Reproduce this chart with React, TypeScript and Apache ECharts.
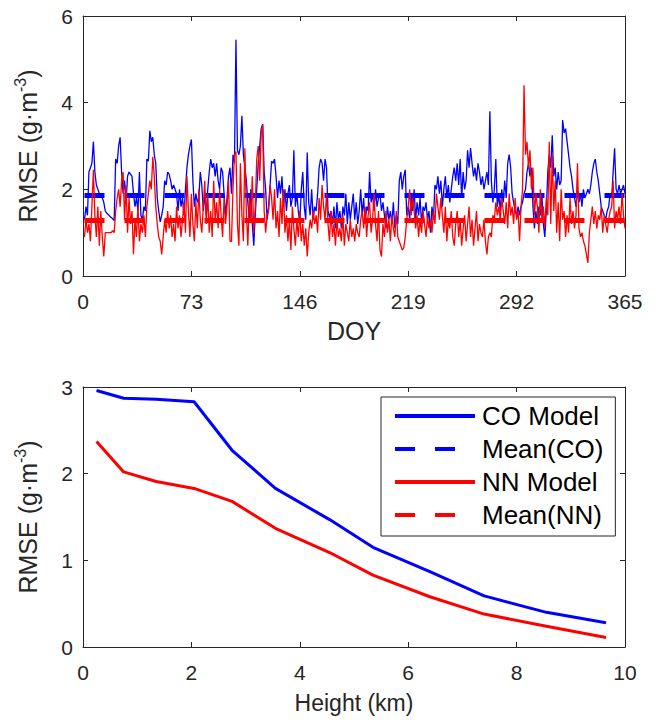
import React, { useEffect, useRef } from "react";
import * as echarts from "echarts";

// ---- Top panel: daily RMSE over the year ----
const doyTicks = [0, 73, 146, 219, 292, 365];
const coDaily = [
  1.3, 1.6, 1.4, 2.4, 2.5, 2.6, 3.1, 2.4, 2.1, 2.0,
  1.9, 1.9, 1.8, 1.7, 1.5, 1.45, 1.42, 1.38, 1.35, 1.32,
  1.28, 2.7, 2.6, 3.0, 3.2, 2.4, 1.9, 2.2, 1.7, 2.3,
  2.4, 2.35, 2.3, 1.9, 1.6, 1.8, 1.5, 2.4, 1.4, 1.3,
  1.6, 1.5, 2.7, 2.65, 3.35, 3.1, 3.2, 2.8, 2.6, 1.8,
  1.5, 1.25, 1.4, 1.6, 2.2, 2.1, 2.4, 2.35, 2.2, 2.0,
  2.1, 2.0, 1.9, 1.5, 2.0, 1.6, 1.8, 1.4, 2.0, 2.5,
  2.8, 3.0, 3.15, 2.2, 1.6, 1.9, 1.7, 1.8, 2.4, 2.1,
  1.5, 1.9, 1.4, 2.0, 2.4, 2.7, 2.5, 2.6, 2.3, 2.6,
  2.2, 2.0, 2.5, 2.4, 1.9, 1.4, 1.8, 2.3, 2.5, 1.9,
  2.8, 2.6, 5.45, 2.9, 2.8, 3.0, 3.7, 2.8, 2.5, 2.2,
  1.7, 1.3, 2.0, 1.2, 0.7, 1.4, 2.0, 2.6, 3.0, 3.4,
  3.5, 2.4, 2.0, 1.3, 1.6, 2.1, 2.65, 2.6, 2.7, 2.3,
  1.8, 2.2, 1.9, 2.3, 1.6, 2.0, 1.5, 1.9, 2.1, 1.6,
  1.8, 2.9, 1.6, 1.9, 1.5, 1.2, 2.0, 2.4, 1.6, 1.3,
  2.85, 1.7, 1.4, 2.0, 1.3, 1.6, 1.5, 1.9, 2.5, 2.7,
  2.6, 2.2, 2.7, 2.5, 1.5, 1.35, 1.5, 1.2, 1.6, 1.1,
  1.7, 1.3, 1.5, 1.1, 1.6, 1.4, 1.9, 1.2, 1.7, 1.3,
  1.6, 1.9, 1.3, 1.7, 1.2, 1.5, 2.0, 1.4, 1.8, 1.2,
  1.6, 1.5, 2.4, 1.7, 1.9, 1.5, 2.0, 1.6, 1.8, 1.9,
  1.5, 1.7, 1.4, 1.1, 1.6, 1.3, 1.5, 1.2, 1.7, 1.1,
  1.4, 1.2, 2.2, 2.4, 2.0, 2.3, 2.45, 1.4, 1.6, 1.3,
  1.9, 1.5, 2.0, 1.3, 1.7, 1.4, 1.8, 1.2, 1.6, 1.5,
  1.7, 1.3, 1.5, 1.0, 1.6, 1.3, 2.1, 2.0, 2.3, 1.9,
  2.2, 1.6, 2.0, 2.3, 1.8, 2.1, 1.7, 2.0, 2.3, 2.5,
  2.2, 2.6, 2.1, 2.7, 1.8, 2.4, 2.0, 2.2, 2.9, 2.5,
  2.95, 2.6, 2.3, 2.5, 2.2, 2.6, 2.4, 2.1, 2.3, 2.0,
  2.2, 2.4, 2.1, 3.8, 2.2, 1.7, 2.0, 2.7, 1.6, 1.9,
  1.5, 2.0, 1.7, 2.2, 1.8, 2.6, 2.8, 2.5, 1.9, 1.7,
  1.5, 1.4, 1.6, 1.4, 1.6, 1.7, 1.9, 2.0, 2.4, 2.6,
  2.3, 2.5, 1.6, 1.1, 1.5, 1.2, 1.6, 1.4, 1.9, 1.2,
  0.9, 1.5, 2.4, 2.8, 2.5, 3.25, 2.3, 2.5, 2.0, 2.4,
  2.1, 2.2, 3.6, 3.3, 3.4, 3.1, 2.8, 2.5, 2.3, 2.0,
  1.8, 1.6, 2.0, 1.7, 1.9, 1.6, 2.0, 1.8, 1.9, 2.0,
  1.9, 2.1, 2.4, 2.6, 2.7, 2.4, 2.2, 1.9, 1.6, 1.5,
  1.4, 1.3, 1.5, 1.6, 1.9, 1.8, 2.4, 2.95, 2.0, 1.9,
  2.1, 1.9, 2.0, 2.1, 1.9,
];
const nnDaily = [
  0.9, 1.3, 1.0, 1.2, 0.8, 1.6, 2.45, 1.4, 0.9, 1.6,
  0.7, 1.5, 0.9, 0.45, 1.0, 1.0, 1.0, 1.0, 1.0, 1.05,
  1.0, 1.5, 1.8, 2.0, 1.6, 2.2, 2.4, 1.3, 2.1, 1.0,
  1.8, 1.2, 1.5, 0.5, 1.3, 0.9, 1.6, 0.8, 1.2, 1.0,
  1.4, 0.9, 1.6, 1.9, 2.2, 2.0, 2.75, 2.3, 1.6, 1.2,
  0.9, 0.8, 0.5, 0.9, 1.3, 1.0, 1.5, 1.1, 1.4, 0.9,
  1.2, 0.8, 1.6, 1.1, 1.4, 0.9, 1.3, 1.7, 1.0, 2.3,
  1.5, 0.9, 1.9, 1.2, 0.8, 1.7, 1.1, 2.0, 1.3, 1.0,
  1.6, 2.2, 1.2, 1.9, 1.0, 1.5, 0.9, 2.2, 1.3, 1.7,
  1.1, 2.0, 1.4, 0.9, 1.8, 1.2, 1.6, 2.2, 0.8, 0.8,
  2.0, 2.8, 2.87, 1.2, 0.7, 2.6, 1.4, 0.8, 2.95, 1.5,
  0.7, 1.8, 1.3, 2.3, 1.0, 1.6, 2.7, 3.0, 2.2, 3.3,
  3.5, 1.5, 1.0, 1.4, 1.5, 2.1, 1.8, 1.3, 2.0, 1.1,
  1.5, 0.9, 1.8, 1.2, 2.0, 1.0, 1.4, 0.8, 1.3, 0.6,
  1.6, 1.1, 0.7, 1.3, 0.9, 1.5, 0.8, 1.2, 0.7, 1.1,
  0.45, 1.0, 1.3, 1.1, 1.5, 1.2, 1.4, 1.0, 1.8, 1.3,
  2.1, 1.6, 1.3, 1.9, 1.2, 0.8, 1.5, 0.9, 1.2, 0.7,
  1.3, 0.9, 1.1, 0.8, 1.4, 0.7, 1.2, 1.0, 0.8, 1.3,
  0.9, 1.1, 0.8, 1.2, 1.0, 0.9, 1.3, 1.5, 1.1, 1.6,
  0.9, 1.4, 1.7, 1.0, 1.3, 1.9, 1.2, 0.8, 1.5, 0.6,
  0.45, 1.2, 0.9, 1.5, 1.0, 1.3, 0.8, 1.4, 1.1, 0.9,
  1.5, 0.9, 0.8, 0.7, 0.6, 0.65, 0.9, 1.3, 1.6, 2.0,
  1.4, 1.8, 1.5, 1.1, 1.4, 0.9, 1.3, 1.0, 1.5, 1.2,
  0.9, 1.4, 1.1, 1.3, 1.0, 1.5, 1.2, 1.9, 1.6, 1.3,
  1.8, 1.4, 1.0, 1.6, 0.8, 1.3, 1.1, 1.5, 0.9, 0.7,
  1.2, 1.5, 0.9, 1.3, 0.7, 1.1, 1.4, 0.8, 1.2, 1.6,
  0.9, 1.3, 0.7, 1.1, 1.5, 0.8, 1.2, 1.0, 0.9, 1.3,
  0.8, 0.5, 0.9, 1.0, 0.9, 1.4, 1.3, 1.7, 1.4, 1.6,
  1.3, 1.8, 1.5, 1.2, 1.7, 1.1, 1.9, 1.4, 1.6, 1.2,
  1.8, 1.3, 1.5, 0.8, 1.6, 2.0, 4.4, 2.8, 3.1, 2.5,
  2.9, 2.0, 2.5, 1.4, 1.9, 1.6, 1.0, 2.0, 1.3, 1.6,
  1.1, 1.8, 1.4, 3.1, 1.2, 2.8, 1.5, 2.2, 1.0, 1.7,
  0.8, 2.0, 1.3, 1.5, 0.9, 1.4, 1.0, 1.8, 1.2, 1.5,
  1.1, 1.4, 2.6, 1.1, 0.9, 1.0, 0.8, 0.7, 0.5, 0.3,
  1.0, 1.3, 1.6, 1.2, 1.5, 1.1, 1.4, 1.3, 1.6, 1.0,
  1.4, 1.2, 1.0, 1.3, 1.5, 1.6, 2.2, 1.1, 1.5, 1.3,
  1.6, 1.2, 1.9, 1.4, 1.1,
];
const meanCO = 1.86;
const meanNN = 1.28;

// ---- Bottom panel: RMSE versus height ----
const heightKm = [0.25, 0.75, 1.35, 2.05, 2.75, 3.55, 4.55, 5.35, 6.4, 7.4, 8.55, 9.65];
const coByHeight = [2.96, 2.87, 2.86, 2.83, 2.27, 1.83, 1.47, 1.15, 0.87, 0.59, 0.4, 0.28];
const nnByHeight = [2.37, 2.02, 1.91, 1.83, 1.68, 1.37, 1.09, 0.83, 0.58, 0.38, 0.24, 0.11];
const heightTicks = [0, 2, 4, 6, 8, 10];
const legendNames = ["CO Model", "Mean(CO)", "NN Model", "Mean(NN)"];

const BLUE = "#0000FF";
const RED = "#FF0000";
const AX = "#262626";
const FONT = "'Liberation Sans', Arial, Helvetica, sans-serif";

function mkX(gridIndex: number, ticks: number[], pos: "bottom" | "top", name?: string, nameGap?: number, nameSize?: number) {
  const main = pos === "bottom";
  return {
    type: "value",
    gridIndex,
    position: pos,
    min: ticks[0],
    max: ticks[ticks.length - 1],
    interval: ticks[1] - ticks[0],
    name: main ? name : undefined,
    nameLocation: "middle",
    nameGap,
    nameTextStyle: { fontFamily: FONT, fontSize: nameSize || 24, color: AX },
    axisLine: { show: true, onZero: false, lineStyle: { color: AX, width: 1 } },
    axisTick: { show: true, inside: true, length: 5, lineStyle: { color: AX } },
    axisLabel: { show: main, fontFamily: FONT, fontSize: 21, color: AX, margin: 15 },
    splitLine: { show: false },
  };
}

function mkY(gridIndex: number, min: number, max: number, interval: number, pos: "left" | "right", fs: number) {
  const main = pos === "left";
  return {
    type: "value",
    gridIndex,
    position: pos,
    min,
    max,
    interval,
    name: main ? "{n|RMSE (g·m}{s|-3}{n|)}" : undefined,
    nameLocation: "middle",
    nameRotate: 90,
    nameGap: 40,
    nameTextStyle: {
      fontFamily: FONT,
      fontSize: fs,
      color: AX,
      rich: {
        n: { fontFamily: FONT, fontSize: fs, color: AX, lineHeight: fs + 6 },
        s: { fontFamily: FONT, fontSize: Math.round(fs * 0.65), color: AX, verticalAlign: "top" },
      },
    },
    axisLine: { show: true, onZero: false, lineStyle: { color: AX, width: 1 } },
    axisTick: { show: true, inside: true, length: 5, lineStyle: { color: AX } },
    axisLabel: { show: main, fontFamily: FONT, fontSize: 21, color: AX, margin: 10 },
    splitLine: { show: false },
  };
}

export default function App() {
  const ref = useRef<HTMLDivElement>(null);
  useEffect(() => {
    if (!ref.current) return;
    const chart = echarts.init(ref.current, undefined, { renderer: "svg" });
    const days = coDaily.map((_, i) => i + 1);
    const dash = [20, 20];
    chart.setOption({
      animation: false,
      backgroundColor: "#ffffff",
      textStyle: { fontFamily: FONT },
      grid: [
        { left: 83, top: 16, width: 542, height: 260 },
        { left: 83, top: 387, width: 542, height: 260 },
      ],
      xAxis: [
        mkX(0, doyTicks, "bottom", "DOY", 42, 25),
        mkX(0, doyTicks, "top"),
        mkX(1, heightTicks, "bottom", "Height (km)", 44, 23),
        mkX(1, heightTicks, "top"),
      ],
      yAxis: [
        mkY(0, 0, 6, 2, "left", 25),
        mkY(0, 0, 6, 2, "right", 25),
        mkY(1, 0, 3, 1, "left", 25),
        mkY(1, 0, 3, 1, "right", 25),
      ],
      legend: {
        data: legendNames,
        orient: "vertical",
        left: 381,
        top: 397,
        padding: [6, 12, 8, 12],
        itemWidth: 80,
        itemHeight: 14,
        itemGap: 7,
        selectedMode: false,
        backgroundColor: "#ffffff",
        borderColor: AX,
        borderWidth: 1,
        borderRadius: 0,
        itemStyle: { opacity: 0 },
        lineStyle: { width: 4 },
        textStyle: { fontFamily: FONT, fontSize: 26, color: "#000", padding: [0, 0, 0, 2] },
      },
      series: [
        {
          name: "CO daily", type: "line", xAxisIndex: 0, yAxisIndex: 0, symbol: "none",
          data: coDaily.map((v, i) => [days[i], v]),
          lineStyle: { color: BLUE, width: 1.3 }, itemStyle: { color: BLUE },
        },
        {
          name: "CO daily mean", type: "line", xAxisIndex: 0, yAxisIndex: 0, symbol: "none",
          data: [[days[0], meanCO], [days[days.length - 1], meanCO]],
          lineStyle: { color: BLUE, width: 5, type: dash, cap: "butt" }, itemStyle: { color: BLUE },
        },
        {
          name: "NN daily", type: "line", xAxisIndex: 0, yAxisIndex: 0, symbol: "none",
          data: nnDaily.map((v, i) => [days[i], v]),
          lineStyle: { color: RED, width: 1.3 }, itemStyle: { color: RED },
        },
        {
          name: "NN daily mean", type: "line", xAxisIndex: 0, yAxisIndex: 0, symbol: "none",
          data: [[days[0], meanNN], [days[days.length - 1], meanNN]],
          lineStyle: { color: RED, width: 5, type: dash, cap: "butt" }, itemStyle: { color: RED },
        },
        {
          name: "CO Model", type: "line", xAxisIndex: 2, yAxisIndex: 2, symbol: "none",
          data: heightKm.map((h, i) => [h, coByHeight[i]]),
          lineStyle: { color: BLUE, width: 3 }, itemStyle: { color: BLUE },
        },
        {
          name: "Mean(CO)", type: "line", xAxisIndex: 2, yAxisIndex: 2, symbol: "none",
          data: [],
          lineStyle: { color: BLUE, width: 4.5, type: dash }, itemStyle: { color: BLUE },
        },
        {
          name: "NN Model", type: "line", xAxisIndex: 2, yAxisIndex: 2, symbol: "none",
          data: heightKm.map((h, i) => [h, nnByHeight[i]]),
          lineStyle: { color: RED, width: 3 }, itemStyle: { color: RED },
        },
        {
          name: "Mean(NN)", type: "line", xAxisIndex: 2, yAxisIndex: 2, symbol: "none",
          data: [],
          lineStyle: { color: RED, width: 4.5, type: dash }, itemStyle: { color: RED },
        },
      ],
    });
    return () => chart.dispose();
  }, []);
  return (
    <div
      ref={ref}
      style={{ position: "absolute", left: 0, top: 0, width: 656, height: 722, background: "#fff" }}
    />
  );
}
